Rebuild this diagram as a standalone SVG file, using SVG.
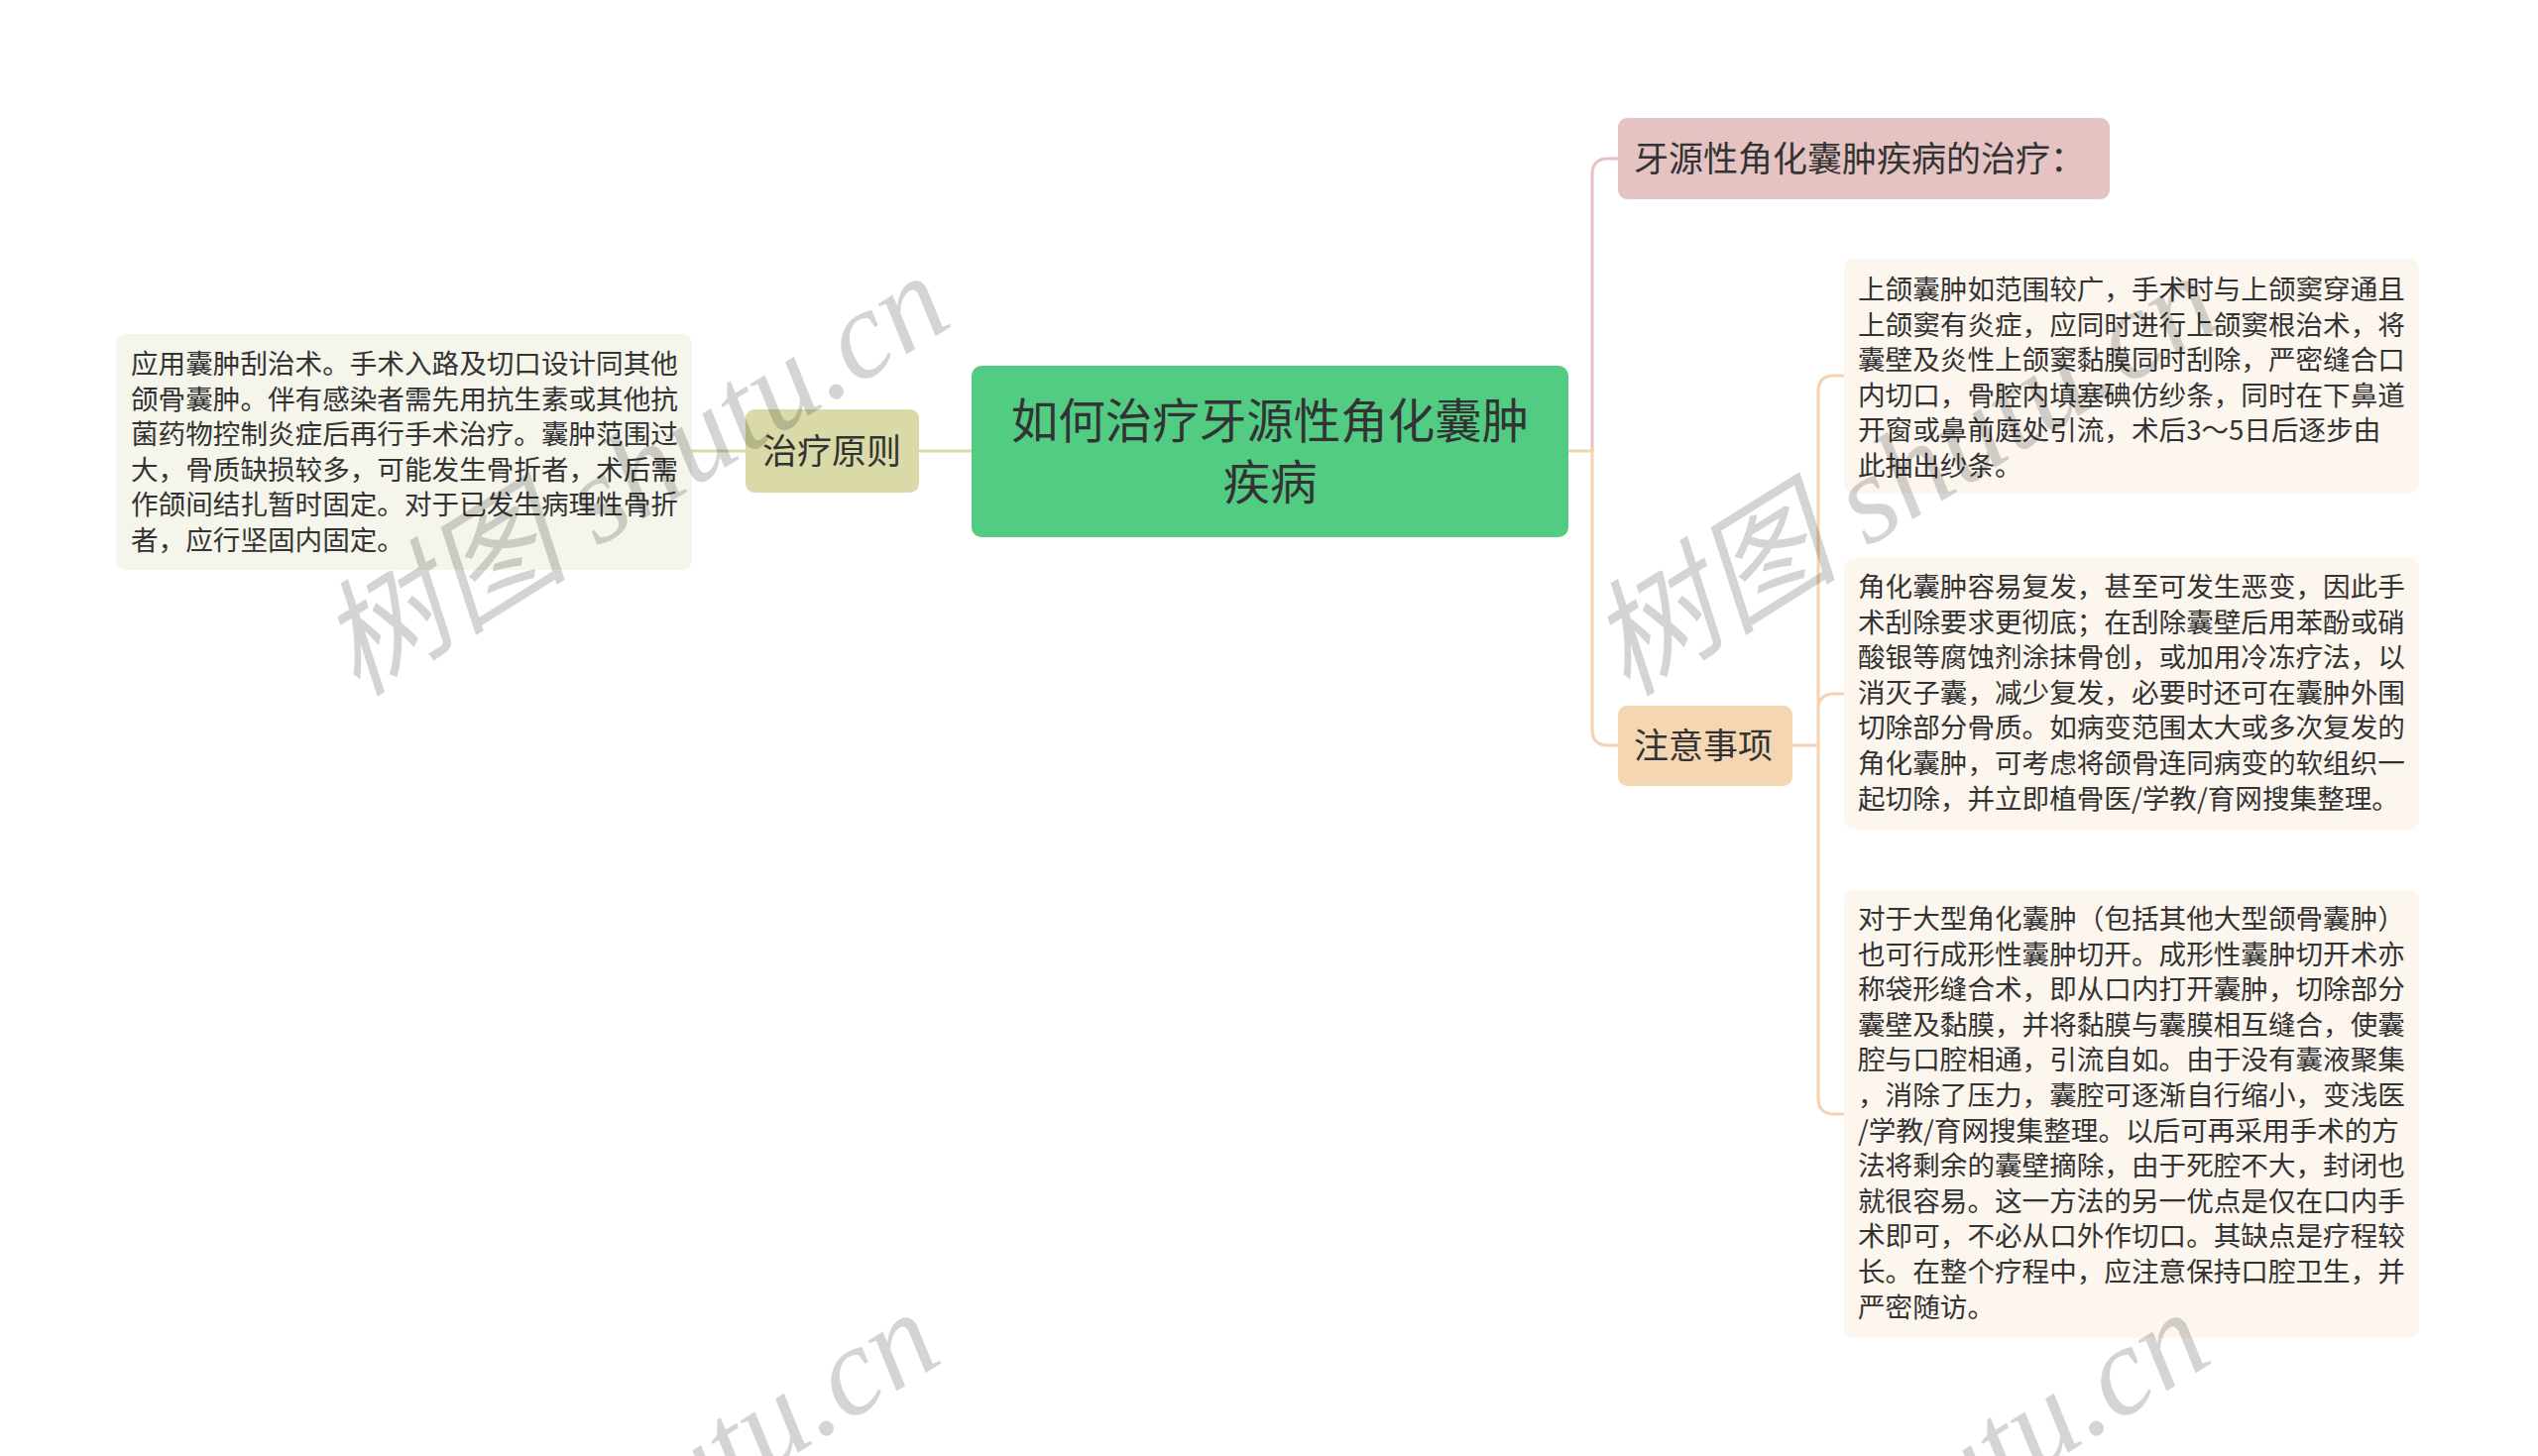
<svg xmlns="http://www.w3.org/2000/svg" width="2560" height="1469" viewBox="0 0 2560 1469">
<defs>
<style>
.t{font-family:"Noto Sans CJK SC","Noto Sans",sans-serif;fill:#333333}
.leaf{font-size:27.6px}
.l1{font-size:35px}
.conn{fill:none;stroke-width:3;stroke-linecap:round}
.wm{font-family:"Liberation Serif","Noto Sans CJK SC",serif;font-style:italic;font-size:127px;fill:#000000;fill-opacity:0.17}
</style>
</defs>
<rect x="0" y="0" width="2560" height="1469" fill="#ffffff"/>
<g id="connectors">
<path class="conn" stroke="#dadaa8" d="M698 455 H752 M927 455 H980"/>
<path class="conn" stroke="#e6c3c3" d="M1606 455 V176 Q1606 160 1622 160 H1632"/>
<path class="conn" stroke="#f3d3b0" d="M1580 455 H1606 V736 Q1606 752 1622 752 H1632"/>
<path class="conn" stroke="#f3d3b0" d="M1808 752 H1834 M1834 752 V395 Q1834 379 1850 379 H1860 M1834 752 V716 Q1834 700 1850 700 H1860 M1834 752 V1108 Q1834 1124 1850 1124 H1860"/>
</g>
<g id="center">
<rect x="980" y="369" width="602" height="173" rx="10" fill="#52cb83"/>
<text class="t" font-size="47.5" text-anchor="middle" fill="#1f2a22" x="1281" y="442">如何治疗牙源性角化囊肿</text>
<text class="t" font-size="47.5" text-anchor="middle" fill="#1f2a22" x="1281" y="504">疾病</text>
</g>
<g id="node-zlyz">
<rect x="752" y="413" width="175" height="84" rx="9" fill="#dadaa8"/>
<text class="t l1" x="769" y="468">治疗原则</text>
</g>
<g id="leaf-left">
<rect x="117" y="337" width="581" height="238" rx="10" fill="#f5f5ec"/>
<text class="t leaf" x="132" y="377">应用囊肿刮治术。手术入路及切口设计同其他</text>
<text class="t leaf" x="132" y="412.6">颌骨囊肿。伴有感染者需先用抗生素或其他抗</text>
<text class="t leaf" x="132" y="448.2">菌药物控制炎症后再行手术治疗。囊肿范围过</text>
<text class="t leaf" x="132" y="483.8">大，骨质缺损较多，可能发生骨折者，术后需</text>
<text class="t leaf" x="132" y="519.4">作颌间结扎暂时固定。对于已发生病理性骨折</text>
<text class="t leaf" x="132" y="555">者，应行坚固内固定。</text>
</g>
<g id="node-treat">
<rect x="1632" y="119" width="496" height="82" rx="9" fill="#e6c3c3"/>
<text class="t l1" x="1648" y="173">牙源性角化囊肿疾病的治疗：</text>
</g>
<g id="node-notes">
<rect x="1632" y="712" width="176" height="81" rx="9" fill="#f5d6b3"/>
<text class="t l1" x="1648" y="765">注意事项</text>
</g>
<g id="leaf-r1">
<rect x="1860" y="261" width="580" height="237" rx="10" fill="#fdf6ee"/>
<text class="t leaf" x="1874" y="302">上颌囊肿如范围较广，手术时与上颌窦穿通且</text>
<text class="t leaf" x="1874" y="337.6">上颌窦有炎症，应同时进行上颌窦根治术，将</text>
<text class="t leaf" x="1874" y="373.2">囊壁及炎性上颌窦黏膜同时刮除，严密缝合口</text>
<text class="t leaf" x="1874" y="408.8">内切口，骨腔内填塞碘仿纱条，同时在下鼻道</text>
<text class="t leaf" x="1874" y="444.4">开窗或鼻前庭处引流，术后3～5日后逐步由</text>
<text class="t leaf" x="1874" y="480">此抽出纱条。</text>
</g>
<g id="leaf-r2">
<rect x="1860" y="563" width="580" height="274" rx="10" fill="#fdf6ee"/>
<text class="t leaf" x="1874" y="602">角化囊肿容易复发，甚至可发生恶变，因此手</text>
<text class="t leaf" x="1874" y="637.6">术刮除要求更彻底；在刮除囊壁后用苯酚或硝</text>
<text class="t leaf" x="1874" y="673.2">酸银等腐蚀剂涂抹骨创，或加用冷冻疗法，以</text>
<text class="t leaf" x="1874" y="708.8">消灭子囊，减少复发，必要时还可在囊肿外围</text>
<text class="t leaf" x="1874" y="744.4">切除部分骨质。如病变范围太大或多次复发的</text>
<text class="t leaf" x="1874" y="780">角化囊肿，可考虑将颌骨连同病变的软组织一</text>
<text class="t leaf" x="1874" y="815.6">起切除，并立即植骨医/学教/育网搜集整理。</text>
</g>
<g id="leaf-r3">
<rect x="1860" y="898" width="580" height="452" rx="10" fill="#fdf6ee"/>
<text class="t leaf" x="1874" y="937">对于大型角化囊肿（包括其他大型颌骨囊肿）</text>
<text class="t leaf" x="1874" y="972.6">也可行成形性囊肿切开。成形性囊肿切开术亦</text>
<text class="t leaf" x="1874" y="1008.2">称袋形缝合术，即从口内打开囊肿，切除部分</text>
<text class="t leaf" x="1874" y="1043.8">囊壁及黏膜，并将黏膜与囊膜相互缝合，使囊</text>
<text class="t leaf" x="1874" y="1079.4">腔与口腔相通，引流自如。由于没有囊液聚集</text>
<text class="t leaf" x="1874" y="1115">，消除了压力，囊腔可逐渐自行缩小，变浅医</text>
<text class="t leaf" x="1874" y="1150.6">/学教/育网搜集整理。以后可再采用手术的方</text>
<text class="t leaf" x="1874" y="1186.2">法将剩余的囊壁摘除，由于死腔不大，封闭也</text>
<text class="t leaf" x="1874" y="1221.8">就很容易。这一方法的另一优点是仅在口内手</text>
<text class="t leaf" x="1874" y="1257.4">术即可，不必从口外作切口。其缺点是疗程较</text>
<text class="t leaf" x="1874" y="1293">长。在整个疗程中，应注意保持口腔卫生，并</text>
<text class="t leaf" x="1874" y="1328.6">严密随访。</text>
</g>
<g id="watermarks">
<text class="wm" transform="translate(360 704) rotate(-32)">树图 shutu.cn</text>
<text class="wm" transform="translate(1641 704) rotate(-32)">树图 shutu.cn</text>
<text class="wm" transform="translate(350 1750) rotate(-32)">树图 shutu.cn</text>
<text class="wm" transform="translate(1631 1750) rotate(-32)">树图 shutu.cn</text>
</g>
</svg>
